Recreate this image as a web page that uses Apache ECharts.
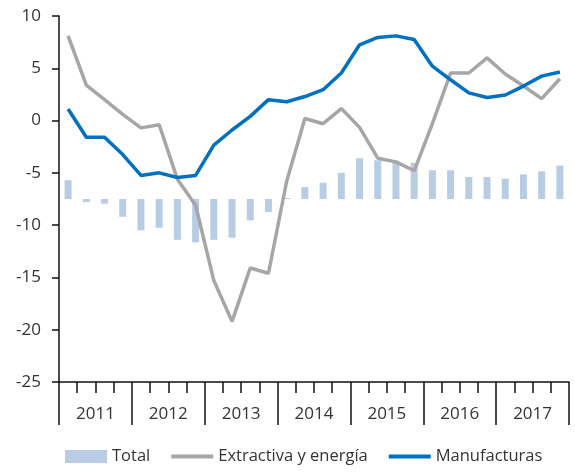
<!DOCTYPE html>
<html>
<head>
<meta charset="utf-8">
<script src="https://cdn.jsdelivr.net/npm/echarts@6/dist/echarts.min.js"></script>
<style>
  html, body { margin: 0; padding: 0; background: #fff; }
  #chart { width: 575px; height: 474px; }
</style>
</head>
<body>
<div id="chart"></div>
<script>
// quarters 2011Q1 .. 2017Q4
const years = ['2011', '2012', '2013', '2014', '2015', '2016', '2017'];
const quarters = [];
years.forEach(y => { for (let q = 1; q <= 4; q++) quarters.push(y + 'T' + q); });

// Total: drawn from a hidden axis whose zero sits at -7.5 on the main axis
const total = [1.8, -0.3, -0.45, -1.7, -3.0, -2.75, -3.9, -4.15,
  -3.9, -3.7, -2.05, -1.25, 0.1, 1.15, 1.55, 2.5,
  3.9, 3.7, 3.5, 3.45, 2.75, 2.75, 2.1, 2.1,
  1.95, 2.35, 2.65, 3.2];
const extractiva = [8.1, 3.4, 2.0, 0.6, -0.7, -0.4, -5.6, -8.1,
  -15.3, -19.2, -14.1, -14.6, -5.8, 0.2, -0.3, 1.15,
  -0.65, -3.6, -3.95, -4.8, -0.3, 4.55, 4.55, 6.0,
  4.45, 3.3, 2.1, 4.0];
const manufacturas = [1.1, -1.6, -1.6, -3.25, -5.25, -5.0, -5.45, -5.25,
  -2.35, -0.9, 0.4, 2.0, 1.8, 2.3, 2.95, 4.55,
  7.25, 7.95, 8.1, 7.75, 5.2, 3.9, 2.65, 2.2,
  2.45, 3.3, 4.25, 4.65];

const chart = echarts.init(document.getElementById('chart'));
const font = '"Open Sans", Lato, sans-serif';
const lineIcon = 'path://M0,0L42,0L42,4L0,4Z';

const option = {
  animation: false,
  textStyle: { fontFamily: font },
  grid: { left: 59, right: 6, top: 16, bottom: 92 },
  legend: {
    bottom: 4,
    left: 60,
    itemGap: 21,
    itemWidth: 42,
    itemHeight: 13,
    textStyle: { fontSize: 16.5, color: '#333', fontFamily: font },
    data: [
      { name: 'Total', icon: 'rect' },
      { name: 'Extractiva y energía', icon: lineIcon },
      { name: 'Manufacturas', icon: lineIcon }
    ]
  },
  xAxis: [
    {
      type: 'category',
      data: quarters,
      position: 'bottom',
      axisLine: { onZero: false, lineStyle: { color: '#111', width: 1.5 } },
      axisTick: { show: true, interval: 0, length: 11, lineStyle: { color: '#111', width: 1.5 } },
      axisLabel: { show: false }
    },
    {
      type: 'category',
      data: years,
      position: 'bottom',
      axisLine: { show: false, onZero: false },
      axisTick: { show: true, interval: 0, length: 43, lineStyle: { color: '#111', width: 1.5 } },
      axisLabel: { interval: 0, margin: 24, fontSize: 17, color: '#333', fontFamily: font }
    }
  ],
  yAxis: [
    {
      type: 'value',
      min: -25,
      max: 10,
      interval: 5,
      axisLine: { show: true, lineStyle: { color: '#111', width: 1.5 } },
      axisTick: { show: true, length: 7, lineStyle: { color: '#111', width: 1.5 } },
      axisLabel: { margin: 18, fontSize: 17, color: '#333', fontFamily: font },
      splitLine: { show: false }
    },
    {
      type: 'value',
      min: -17.5,
      max: 17.5,
      show: false,
      splitLine: { show: false }
    }
  ],
  series: [
    {
      name: 'Total',
      type: 'bar',
      xAxisIndex: 0,
      yAxisIndex: 1,
      data: total,
      barWidth: 7,
      itemStyle: { color: '#b8cce4' },
      z: 1
    },
    {
      name: 'Extractiva y energía',
      type: 'line',
      xAxisIndex: 0,
      yAxisIndex: 0,
      data: extractiva,
      symbol: 'none',
      lineStyle: { color: '#a6a6a6', width: 3.5 },
      itemStyle: { color: '#a6a6a6' },
      z: 2
    },
    {
      name: 'Manufacturas',
      type: 'line',
      xAxisIndex: 0,
      yAxisIndex: 0,
      data: manufacturas,
      symbol: 'none',
      lineStyle: { color: '#0070c0', width: 3.5 },
      itemStyle: { color: '#0070c0' },
      z: 3
    }
  ]
};

chart.setOption(option);
</script>
</body>
</html>
